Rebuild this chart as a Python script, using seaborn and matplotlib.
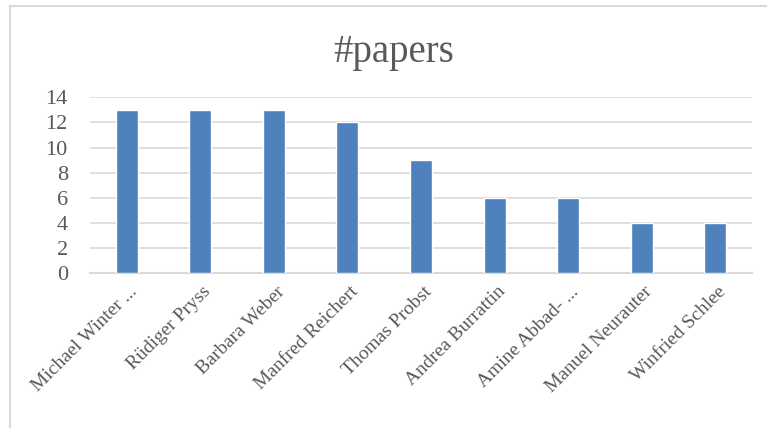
import matplotlib
matplotlib.use("Agg")
import matplotlib.pyplot as plt
import matplotlib.transforms as mtransforms
from matplotlib.patches import Rectangle
import seaborn as sns
import pandas as pd

# --- DATA ---
authors = ["Michael Winter ...", "Rüdiger Pryss", "Barbara Weber", "Manfred Reichert",
           "Thomas Probst", "Andrea Burrattin", "Amine Abbad- ...", "Manuel Neurauter",
           "Winfried Schlee"]
papers = [13, 13, 13, 12, 9, 6, 6, 4, 4]
yticks = [0, 2, 4, 6, 8, 10, 12, 14]

df = pd.DataFrame({"author": authors, "papers": papers})

sns.set_style("white")
plt.rcParams["font.family"] = ["Liberation Serif", "DejaVu Serif"]
TEXT = "#595959"
GRID = "#D9D9D9"

fig = plt.figure(figsize=(7.67, 4.28), dpi=100)
ax = fig.add_axes([90 / 767, 1 - 273.3 / 428, 662 / 767, 176 / 428])

sns.barplot(data=df, x="author", y="papers", color="#4F81BD", width=0.3,
            saturation=1, ax=ax, zorder=3)

ax.set_ylim(0, 14)
ax.set_yticks(yticks)
ax.yaxis.grid(True, color=GRID, linewidth=1.2, zorder=0)
ax.set_axisbelow(True)
for s in ["top", "right", "left"]:
    ax.spines[s].set_visible(False)
ax.spines["bottom"].set_color(GRID)
ax.spines["bottom"].set_linewidth(1.5)
ax.set_xlabel("")
ax.set_ylabel("")
ax.tick_params(axis="y", length=0, colors=TEXT, labelsize=16, pad=16)
ax.tick_params(axis="x", length=0, colors=TEXT, labelsize=14)

ax.set_xticks(range(len(authors)))
ax.set_xticklabels(authors, rotation=45, ha="right", va="top", rotation_mode="anchor")
offset = mtransforms.ScaledTranslation(2 / 100, -5 / 100, fig.dpi_scale_trans)
for lbl in ax.get_xticklabels():
    lbl.set_transform(lbl.get_transform() + offset)

fig.text(394 / 767, 1 - 62 / 428, "#papers", ha="center", va="baseline",
         fontsize=28, color=TEXT)

# chart frame (only left and top edges visible in the crop)
fig.patches.append(Rectangle((10 / 767, -0.1), 1.2, 1 - 6 / 428 + 0.1,
                             transform=fig.transFigure, fill=False,
                             edgecolor=GRID, linewidth=1.5))

fig.savefig("out.png", dpi=100)
